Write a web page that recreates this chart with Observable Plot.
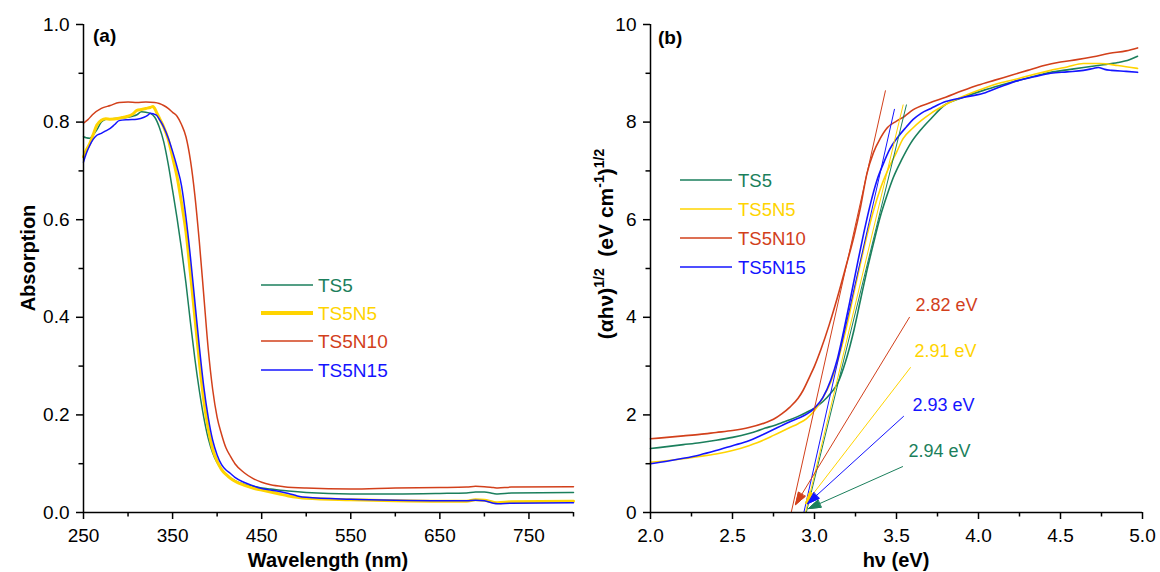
<!DOCTYPE html>
<html><head><meta charset="utf-8">
<script src="https://cdn.jsdelivr.net/npm/d3@7"></script>
<script src="https://cdn.jsdelivr.net/npm/@observablehq/plot@0.6"></script>
<style>
body{margin:0;background:#fff;}
#wrap{display:flex;width:1160px;height:572px;}
#wrap svg{overflow:visible;display:block}
</style></head><body><div id="wrap"></div>
<script>
const seriesNames = ["TS5", "TS5N5", "TS5N10", "TS5N15"];
const seriesColors = ["#1b7f5c", "#ffd400", "#d2401b", "#1414ff"];

// ---------- Panel (a): absorption vs wavelength ----------
const absTS5 = [[250,0.770],[253,0.768],[257,0.767],[260,0.772],[265,0.784],[270,0.800],[275,0.806],[280,0.807],[290,0.808],[300,0.810],[305,0.812],[310,0.815],[315,0.821],[320,0.820],[325,0.818],[330,0.810],[335,0.790],[340,0.760],[345,0.715],[350,0.660],[355,0.603],[360,0.540],[365,0.470],[370,0.390],[375,0.315],[380,0.250],[385,0.195],[390,0.152],[395,0.122],[400,0.102],[405,0.088],[410,0.078],[420,0.065],[430,0.058],[440,0.054],[450,0.050],[460,0.048],[480,0.044],[500,0.041],[550,0.038],[600,0.038],[650,0.039],[680,0.040],[690,0.042],[700,0.042],[710,0.039],[715,0.038],[730,0.040],[800,0.041]];
const absTS5N5 = [[250,0.729],[253,0.742],[257,0.756],[261,0.775],[265,0.794],[270,0.804],[275,0.807],[280,0.806],[290,0.808],[295,0.810],[300,0.812],[305,0.816],[310,0.824],[315,0.826],[320,0.828],[325,0.830],[328,0.832],[332,0.820],[336,0.805],[340,0.790],[345,0.765],[350,0.728],[355,0.688],[360,0.635],[365,0.575],[370,0.490],[375,0.400],[380,0.310],[385,0.230],[390,0.172],[395,0.130],[400,0.105],[405,0.088],[410,0.078],[415,0.070],[420,0.064],[430,0.056],[440,0.050],[450,0.046],[460,0.042],[470,0.038],[480,0.034],[490,0.031],[500,0.029],[550,0.026],[600,0.024],[650,0.023],[680,0.023],[690,0.026],[700,0.025],[710,0.021],[715,0.020],[730,0.022],[800,0.023]];
const absTS5N10 = [[250,0.798],[255,0.805],[260,0.815],[270,0.828],[280,0.834],[290,0.840],[300,0.841],[310,0.840],[320,0.841],[330,0.840],[335,0.838],[340,0.834],[345,0.828],[350,0.820],[355,0.812],[360,0.795],[365,0.770],[370,0.722],[375,0.650],[380,0.555],[385,0.445],[390,0.335],[395,0.252],[400,0.195],[405,0.160],[410,0.132],[415,0.115],[420,0.100],[430,0.082],[440,0.070],[450,0.062],[460,0.057],[475,0.053],[500,0.050],[550,0.048],[600,0.050],[650,0.051],[680,0.052],[690,0.054],[700,0.053],[710,0.051],[715,0.050],[730,0.052],[800,0.053]];
const absTS5N15 = [[250,0.718],[253,0.735],[257,0.752],[261,0.765],[265,0.773],[270,0.777],[275,0.782],[280,0.787],[285,0.795],[290,0.803],[300,0.805],[310,0.806],[318,0.810],[322,0.814],[325,0.818],[328,0.817],[332,0.814],[336,0.803],[340,0.790],[345,0.768],[350,0.740],[355,0.708],[360,0.670],[365,0.605],[370,0.524],[375,0.432],[380,0.340],[385,0.258],[390,0.195],[395,0.148],[400,0.118],[405,0.098],[410,0.087],[415,0.080],[420,0.072],[430,0.062],[440,0.055],[450,0.049],[460,0.046],[470,0.043],[480,0.039],[490,0.034],[500,0.031],[550,0.027],[600,0.025],[650,0.024],[680,0.024],[690,0.025],[700,0.024],[710,0.019],[715,0.018],[730,0.019],[800,0.020]];
const wlTicks = [250, 350, 450, 550, 650, 750];
const wlMinor = [300, 400, 500, 600, 700, 800];
const absTicks = [0, 0.2, 0.4, 0.6, 0.8, 1.0];
const absMinor = [0.1, 0.3, 0.5, 0.7, 0.9];

// ---------- Panel (b): Tauc plot ----------
const taucTS5 = [[2.00,1.31],[2.10,1.35],[2.20,1.39],[2.30,1.43],[2.40,1.48],[2.50,1.54],[2.60,1.62],[2.65,1.67],[2.70,1.73],[2.75,1.78],[2.80,1.84],[2.85,1.90],[2.90,1.97],[2.95,2.05],[3.00,2.14],[3.05,2.27],[3.10,2.45],[3.14,2.64],[3.19,3.10],[3.24,3.73],[3.28,4.35],[3.32,4.96],[3.36,5.52],[3.40,6.05],[3.44,6.48],[3.48,6.86],[3.53,7.22],[3.585,7.56],[3.65,7.85],[3.71,8.07],[3.79,8.34],[3.90,8.50],[4.03,8.65],[4.13,8.75],[4.24,8.85],[4.34,8.94],[4.44,9.02],[4.54,9.07],[4.64,9.12],[4.75,9.17],[4.85,9.22],[4.92,9.28],[4.97,9.35]];
const taucTS5N5 = [[2.00,1.03],[2.10,1.06],[2.20,1.10],[2.30,1.15],[2.40,1.20],[2.50,1.27],[2.60,1.37],[2.65,1.43],[2.70,1.50],[2.75,1.58],[2.80,1.66],[2.85,1.74],[2.90,1.82],[2.95,1.92],[3.00,2.09],[3.05,2.35],[3.10,2.68],[3.15,3.20],[3.20,3.87],[3.24,4.50],[3.28,5.10],[3.32,5.68],[3.36,6.19],[3.40,6.62],[3.445,7.00],[3.50,7.38],[3.54,7.66],[3.60,7.88],[3.65,8.03],[3.71,8.18],[3.80,8.36],[3.90,8.52],[4.03,8.69],[4.13,8.80],[4.24,8.89],[4.34,8.98],[4.44,9.06],[4.54,9.13],[4.64,9.20],[4.74,9.20],[4.85,9.16],[4.97,9.10]];
const taucTS5N10 = [[2.00,1.51],[2.10,1.54],[2.20,1.57],[2.30,1.60],[2.40,1.64],[2.50,1.68],[2.60,1.74],[2.70,1.84],[2.75,1.91],[2.80,2.02],[2.85,2.16],[2.90,2.34],[2.93,2.50],[2.97,2.78],[3.00,3.00],[3.04,3.35],[3.09,3.85],[3.14,4.41],[3.19,5.02],[3.24,5.65],[3.28,6.25],[3.32,6.95],[3.36,7.38],[3.40,7.66],[3.445,7.89],[3.50,8.02],[3.55,8.12],[3.60,8.25],[3.70,8.39],[3.80,8.51],[3.90,8.64],[4.00,8.76],[4.10,8.86],[4.20,8.96],[4.30,9.06],[4.40,9.16],[4.50,9.23],[4.60,9.28],[4.70,9.34],[4.80,9.41],[4.90,9.46],[4.97,9.52]];
const taucTS5N15 = [[2.00,1.00],[2.10,1.05],[2.20,1.11],[2.30,1.18],[2.40,1.27],[2.50,1.37],[2.60,1.47],[2.65,1.54],[2.70,1.62],[2.75,1.70],[2.80,1.78],[2.85,1.86],[2.90,1.93],[2.95,2.01],[3.00,2.14],[3.05,2.35],[3.10,2.72],[3.14,3.15],[3.18,3.75],[3.22,4.40],[3.26,5.07],[3.30,5.72],[3.34,6.31],[3.38,6.80],[3.42,7.15],[3.46,7.45],[3.51,7.70],[3.56,7.90],[3.60,8.05],[3.65,8.18],[3.71,8.28],[3.80,8.42],[3.90,8.50],[4.03,8.59],[4.13,8.72],[4.24,8.85],[4.34,8.93],[4.44,9.00],[4.54,9.03],[4.64,9.06],[4.70,9.10],[4.73,9.12],[4.77,9.08],[4.81,9.06],[4.90,9.04],[4.97,9.02]];
const eTicks = [2.0, 2.5, 3.0, 3.5, 4.0, 4.5, 5.0];
const eMinor = [2.25, 2.75, 3.25, 3.75, 4.25, 4.75];
const tTicks = [0, 2, 4, 6, 8, 10];
const tMinor = [1, 3, 5, 7, 9];

// tangent (linear fit) lines: x-intercept and top end
const tanBottomE = [2.95, 2.945, 2.858, 2.935];
const tanTopE = [3.561, 3.541, 3.433, 3.488];
const tanTopV = [8.36, 8.36, 8.65, 8.27];

// band-gap annotations
const gapLabels = ["2.94 eV", "2.91 eV", "2.82 eV", "2.93 eV"];
const gapLabelE = [3.573, 3.61, 3.616, 3.598];
const gapLabelV = [1.25, 3.30, 4.24, 2.19];
const arrowFromE = [3.537, 3.585, 3.579, 3.543];
const arrowFromV = [0.94, 2.97, 4.00, 1.97];
const arrowToE = [2.963, 2.945, 2.884, 2.957];
const arrowToV = [0.08, 0.18, 0.16, 0.18];

// ---------- build ----------
const font = "'Liberation Sans', Arial, Helvetica, sans-serif";
const absSets = [absTS5, absTS5N5, absTS5N10, absTS5N15];
const taucSets = [taucTS5, taucTS5N5, taucTS5N10, taucTS5N15];
const toRows = (name, pts) => pts.map(([x, y]) => ({s: name, x, y}));
const colorOf = n => seriesColors[seriesNames.indexOf(n)];
const widthA = [1.5, 3, 1.5, 1.5];

function axesMarks(xTicks, xMinor, yTicks, yMinor, xFmt, yFmt, x0, y0) {
  return [
    Plot.axisX({ticks: xTicks, tickSize: 7, tickPadding: 9, tickFormat: xFmt, label: null, strokeWidth: 1.5}),
    Plot.axisX({ticks: xMinor, tickSize: 4.5, tickFormat: () => "", label: null, strokeWidth: 1.5}),
    Plot.axisY({ticks: yTicks, tickSize: 7, tickPadding: 7, tickFormat: yFmt, label: null, strokeWidth: 1.5}),
    Plot.axisY({ticks: yMinor, tickSize: 4.5, tickFormat: () => "", label: null, strokeWidth: 1.5}),
    Plot.ruleY([y0], {strokeWidth: 1.5}),
    Plot.ruleX([x0], {strokeWidth: 1.5})
  ];
}

const plotA = Plot.plot({
  width: 580, height: 572, marginLeft: 83, marginRight: 7, marginTop: 24, marginBottom: 60,
  style: {fontFamily: font, fontSize: "19px", color: "#000", background: "transparent"},
  x: {domain: [250, 800]},
  y: {domain: [0, 1]},
  color: {domain: seriesNames, range: seriesColors},
  marks: [
    ...absSets.map((pts, i) => Plot.line(toRows(seriesNames[i], pts), {x: "x", y: "y", stroke: colorOf(seriesNames[i]), strokeWidth: widthA[i], curve: "monotone-x"})),
    ...axesMarks(wlTicks, wlMinor, absTicks, absMinor, d => String(d), d3.format(".1f"), 250, 0)
  ]
});

const tanRows = seriesNames.map((s, i) => ({s, x1: tanBottomE[i], y1: 0, x2: tanTopE[i], y2: tanTopV[i]}));
const arrowRows = seriesNames.map((s, i) => ({s, x1: arrowFromE[i], y1: arrowFromV[i], x2: arrowToE[i], y2: arrowToV[i]}));
const labelRows = seriesNames.map((s, i) => ({s, x: gapLabelE[i], y: gapLabelV[i], t: gapLabels[i]}));

const plotB = Plot.plot({
  width: 580, height: 572, marginLeft: 70, marginRight: 18, marginTop: 24, marginBottom: 60,
  style: {fontFamily: font, fontSize: "19px", color: "#000", background: "transparent"},
  x: {domain: [2, 5]},
  y: {domain: [0, 10]},
  color: {domain: seriesNames, range: seriesColors},
  marks: [
    ...taucSets.map((pts, i) => Plot.line(toRows(seriesNames[i], pts), {x: "x", y: "y", stroke: colorOf(seriesNames[i]), strokeWidth: 1.6, curve: "monotone-x"})),
    Plot.link(tanRows, {x1: "x1", y1: "y1", x2: "x2", y2: "y2", stroke: "s", strokeWidth: 1}),
    Plot.arrow(arrowRows, {x1: "x1", y1: "y1", x2: "x2", y2: "y2", stroke: "s", strokeWidth: 1, headLength: 19, headAngle: 36}),
    Plot.text(labelRows, {x: "x", y: "y", text: "t", fill: "s", textAnchor: "start", fontSize: 18}),
    ...axesMarks(eTicks, eMinor, tTicks, tMinor, d3.format(".1f"), d => String(d), 2, 0)
  ]
});

document.getElementById("wrap").append(plotA, plotB);

// filled arrow heads, derived from the arrow paths that Plot computed
d3.select(plotB).selectAll('g[aria-label="arrow"] path').each(function () {
  const nums = (this.getAttribute("d").match(/-?\d*\.?\d+(?:e-?\d+)?/g) || []).map(Number);
  if (nums.length >= 10) {
    const [hx1, hy1, tx, ty, hx2, hy2] = nums.slice(nums.length - 6);
    const col = this.getAttribute("stroke") || this.parentNode.getAttribute("stroke");
    d3.select(this.parentNode).append("path")
      .attr("d", `M${hx1},${hy1}L${tx},${ty}L${hx2},${hy2}Z`)
      .attr("fill", col).attr("stroke", col).attr("stroke-width", 1);
  }
});

// titles, panel tags, legends
function addText(svg, x, y, txt, opts = {}) {
  const t = d3.select(svg).append("text").attr("x", x).attr("y", y)
    .attr("font-family", font).attr("font-size", opts.size || 19)
    .attr("font-weight", opts.bold ? "bold" : "normal")
    .attr("fill", opts.fill || "#000").attr("text-anchor", opts.anchor || "start");
  if (opts.rotate) t.attr("transform", `rotate(-90,${x},${y})`);
  t.text(txt);
  return t;
}
addText(plotA, 93, 42, "(a)", {bold: true});
addText(plotB, 78, 44, "(b)", {bold: true});
addText(plotA, 328, 567, "Wavelength (nm)", {bold: true, size: 20, anchor: "middle"});
addText(plotB, 316, 567, "hν (eV)", {bold: true, size: 20, anchor: "middle"});
addText(plotA, 35, 258, "Absorption", {bold: true, size: 20, anchor: "middle", rotate: true});

{
  const t = d3.select(plotB).append("text")
    .attr("transform", "translate(33,244) rotate(-90)")
    .attr("font-family", font).attr("font-size", 21).attr("font-weight", "bold").attr("text-anchor", "middle");
  t.append("tspan").text("(αhν)");
  t.append("tspan").attr("font-size", 14).attr("dy", -9).text("1/2");
  t.append("tspan").attr("dy", 9).text("\u00a0 (eV cm");
  t.append("tspan").attr("font-size", 14).attr("dy", -9).text("-1");
  t.append("tspan").attr("dy", 9).text(")");
  t.append("tspan").attr("font-size", 14).attr("dy", -9).text("1/2");
}

function legend(svg, x0, x1, tx, ys, widths, size) {
  const g = d3.select(svg).append("g");
  seriesNames.forEach((n, i) => {
    g.append("line").attr("x1", x0).attr("x2", x1).attr("y1", ys[i]).attr("y2", ys[i])
      .attr("stroke", seriesColors[i]).attr("stroke-width", widths[i]);
    addText(svg, tx, ys[i] + 6.8, n, {fill: seriesColors[i], size});
  });
}
legend(plotA, 261, 313, 318, [285, 313, 341, 370], [1.5, 4, 1.5, 1.5], 19);
legend(plotB, 100, 152, 158, [180, 209, 238, 267], [1.5, 1.5, 1.5, 1.5], 18.5);
</script></body></html>
